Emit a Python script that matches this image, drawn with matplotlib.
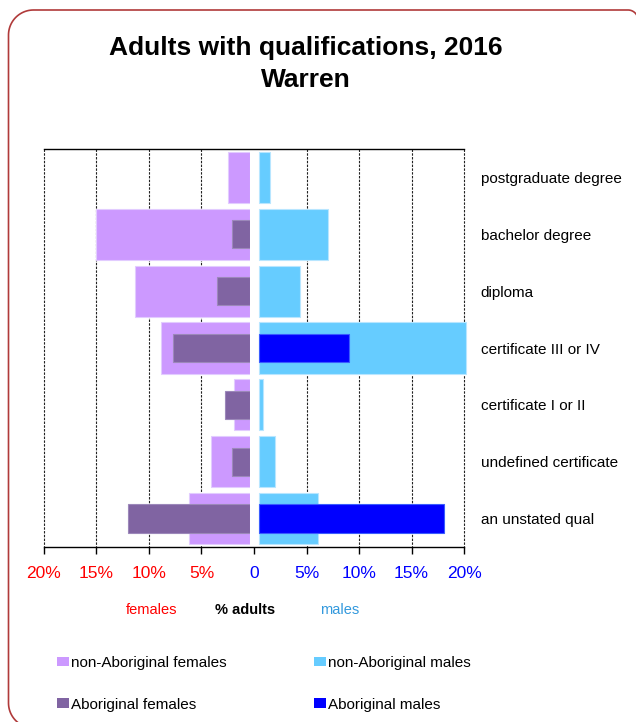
"""Adults with qualifications, 2016 (Warren) - back-to-back bar chart by sex."""

import numpy as np
import matplotlib
matplotlib.use("Agg")
import matplotlib.pyplot as plt
from matplotlib.lines import Line2D
from matplotlib.patches import Patch
from matplotlib.transforms import IdentityTransform

plt.rcParams["font.family"] = ["Liberation Sans", "DejaVu Sans"]

# --- Data (% of adults) ---
categories = [
    "postgraduate degree",
    "bachelor degree",
    "diploma",
    "certificate III or IV",
    "certificate I or II",
    "undefined certificate",
    "an unstated qual",
]
nonab_females = [2.1, 15.0, 11.2, 8.6, 1.6, 3.8, 5.9]
ab_females = [0.0, 1.75, 3.2, 7.5, 2.4, 1.75, 11.8]
nonab_males = [1.1, 6.7, 4.0, 20.2, 0.4, 1.6, 5.8]
ab_males = [0.0, 0.0, 0.0, 8.8, 0.0, 0.0, 18.0]

tick_vals = [-20, -15, -10, -5, 0, 5, 10, 15, 20]
tick_text = ["20%", "15%", "10%", "5%", "0", "5%", "10%", "15%", "20%"]

NONAB_F = "#CC99FF"
AB_F = "#8064A2"
NONAB_M = "#66CCFF"
AB_M = "#0000FF"
RED = "#FF0000"
BLUE = "#0000FF"

W, H, DPI = 636, 722, 100
fig = plt.figure(figsize=(W / DPI, H / DPI), dpi=DPI)
fig.patch.set_facecolor("white")


def px_axes(x0, x1, y0, y1):
    """Axes placed by pixel edges measured from the top-left corner."""
    return fig.add_axes([x0 / W, 1 - y1 / H, (x1 - x0) / W, (y1 - y0) / H])


rows = list(range(len(categories)))

# ---------- frame, grid, tick labels, category names ----------
ax = px_axes(44, 464, 149, 547)
ax.set_xlim(-20, 20)
ax.set_ylim(len(categories) - 0.5, -0.5)
for side in ("left", "right"):
    ax.spines[side].set_visible(False)
for side in ("top", "bottom"):
    ax.spines[side].set_linewidth(1.0)
    ax.spines[side].set_color("black")
ax.vlines([v for v in tick_vals if v != 0], -0.5, len(categories) - 0.5,
          colors="#222", linestyles=(0, (2.2, 1.2)), linewidth=0.8,
          clip_on=False, zorder=0)
ax.set_xticks(tick_vals)
ax.set_xticklabels(tick_text)
ax.tick_params(axis="x", direction="out", length=5, width=1, pad=9,
               labelsize=12.5)
for lbl, v in zip(ax.get_xticklabels(), tick_vals):
    lbl.set_color(RED if v < 0 else BLUE)
ax.yaxis.tick_right()
ax.set_yticks(rows)
ax.set_yticklabels(categories, fontsize=11)
ax.tick_params(axis="y", length=0, pad=12)

# ---------- female bars (left, reversed) ----------
ax_f = px_axes(44, 250, 149, 547)
ax_f.set_xlim(20, 0)
ax_f.set_ylim(len(categories) - 0.5, -0.5)
ax_f.axis("off")
ax_f.patch.set_alpha(0)
ax_f.barh(rows, nonab_females, height=0.9, color=NONAB_F,
          edgecolor="#E2CCFF", linewidth=[0.8 if v > 0 else 0 for v in nonab_females])
ax_f.barh(rows, ab_females, height=0.5, color=AB_F,
          edgecolor="#9C88BA", linewidth=[0.8 if v > 0 else 0 for v in ab_females])

# ---------- male bars (right) ----------
ax_m = px_axes(259, 464, 149, 547)
ax_m.set_xlim(0, 20)
ax_m.set_ylim(len(categories) - 0.5, -0.5)
ax_m.axis("off")
ax_m.patch.set_alpha(0)
ax_m.barh(rows, nonab_males, height=0.9, color=NONAB_M, clip_on=False,
          edgecolor="#B8E6FF", linewidth=[0.8 if v > 0 else 0 for v in nonab_males])
ax_m.barh(rows, ab_males, height=0.5, color=AB_M, clip_on=False,
          edgecolor="#3A5CFF", linewidth=[0.8 if v > 0 else 0 for v in ab_males])

# ---------- titles and axis captions ----------
fig.text(306 / W, 1 - 64 / H, "Adults with qualifications, 2016\nWarren",
         ha="center", va="center", fontsize=19, fontweight="bold",
         linespacing=1.4)
fig.text(152 / W, 1 - 610 / H, "females", ha="center", va="center",
         fontsize=10.5, color=RED)
fig.text(245 / W, 1 - 610 / H, "% adults", ha="center", va="center",
         fontsize=10.5, fontweight="bold", color="black")
fig.text(340 / W, 1 - 610 / H, "males", ha="center", va="center",
         fontsize=10.5, color="#3399DD")

# ---------- legend ----------
handles = [Patch(facecolor=NONAB_F), Patch(facecolor=AB_F),
           Patch(facecolor=NONAB_M), Patch(facecolor=AB_M)]
labels = ["non-Aboriginal females", "Aboriginal females",
          "non-Aboriginal males", "Aboriginal males"]
fig.legend(handles, labels, ncol=2, loc="upper left",
           bbox_to_anchor=(57 / W, 1 - 656 / H), frameon=False,
           fontsize=11, handlelength=0.8, handleheight=0.55,
           handletextpad=0.1, columnspacing=5.75, labelspacing=1.8,
           borderpad=0, borderaxespad=0)


# ---------- rounded outer border (pixel coords, y up) ----------
def corner(cx, cy, r, a0, a1):
    t = np.radians(np.linspace(a0, a1, 24))
    return cx + r * np.cos(t), cy + r * np.sin(t)


left, right, top, bottom = 8.5, 638.0, H - 10.0, H - 728.0
r_l, r_r = 25.0, 10.0
xs, ys = [], []
for cx, cy, r, a0, a1 in [
    (left + r_l, bottom + r_l, r_l, 270, 180),
    (left + r_l, top - r_l, r_l, 180, 90),
    (right - r_r, top - r_r, r_r, 90, 0),
    (right - r_r, bottom + r_r, r_r, 0, -90),
]:
    cxs, cys = corner(cx, cy, r, a0, a1)
    xs.extend(cxs)
    ys.extend(cys)
xs.append(xs[0])
ys.append(ys[0])
fig.add_artist(Line2D(xs, ys, transform=IdentityTransform(),
                      color="#B03A3A", linewidth=1.2))

fig.savefig("out.png", dpi=DPI, facecolor=fig.get_facecolor())
plt.close(fig)
